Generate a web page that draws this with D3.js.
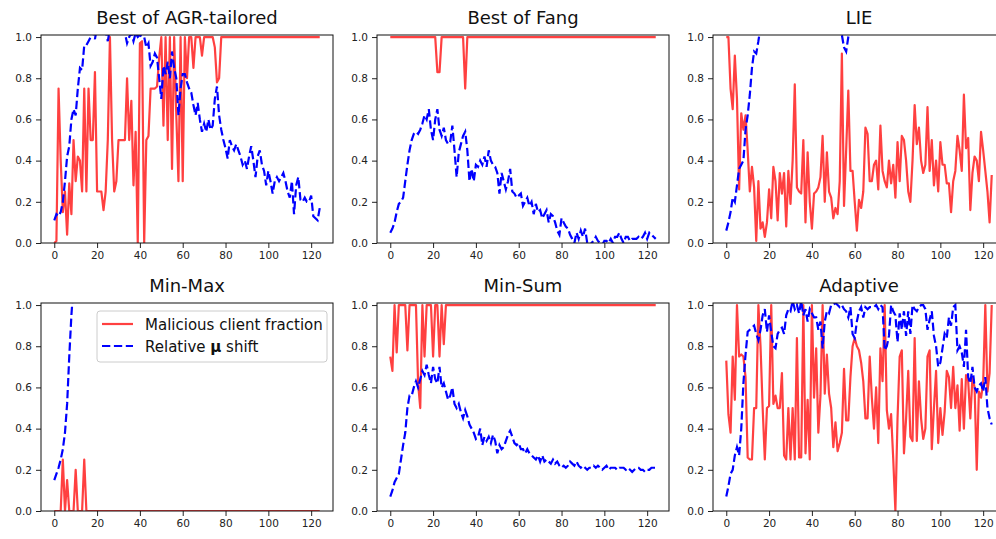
<!DOCTYPE html>
<html>
<head>
<meta charset="utf-8">
<script src="https://cdn.jsdelivr.net/npm/d3@7"></script>
<style>
  body { margin: 0; background: #fff; }
  svg { display: block; font-family: "DejaVu Sans", sans-serif; }
</style>
</head>
<body>
<div id="chart"></div>
<script>
// Panel titles, in grid order
const titles = ["Best of AGR-tailored", "Best of Fang", "LIE", "Min-Max", "Min-Sum", "Adaptive"];
const xTicks = [0, 20, 40, 60, 80, 100, 120];
const yTicks = [0, 0.2, 0.4, 0.6, 0.8, 1.0];
const legendLabels = ["Malicious client fraction", "Relative μ shift"];

// Malicious client fraction (red) and relative mu shift (blue), 125 rounds each
const agrRed = [
  0, 0.01, 0.75, 0.4, 0.15, 0.25, 0.04, 0.29, 0.14, 0.5,
  0.3, 0.42, 0.4, 0.25, 0.75, 0.25, 0.75, 0.5, 0.5, 0.83,
  0.25, 0.25, 0.25, 0.16, 0.25, 0.5, 1.0, 0.5, 0.25, 0.3,
  0.5, 0.5, 0.5, 0.5, 0.8, 0.5, 0.69, 0.28, 0.54, 0,
  0.97, 0.98, 0, 0.5, 0.52, 0.75, 0.75, 0.75, 0.76, 0.9,
  1.0, 0.57, 1.0, 0.5, 1.0, 0.36, 1.0, 0.62, 0.3, 1.0,
  0.3, 1.0, 0.8, 1.0, 1.0, 0.85, 1.0, 1.0, 1.0, 0.91,
  1.0, 1.0, 1.0, 1.0, 1.0, 0.95, 0.78, 0.8, 1.0, 1.0,
  1.0, 1.0, 1.0, 1.0, 1.0, 1.0, 1.0, 1.0, 1.0, 1.0,
  1.0, 1.0, 1.0, 1.0, 1.0, 1.0, 1.0, 1.0, 1.0, 1.0,
  1.0, 1.0, 1.0, 1.0, 1.0, 1.0, 1.0, 1.0, 1.0, 1.0,
  1.0, 1.0, 1.0, 1.0, 1.0, 1.0, 1.0, 1.0, 1.0, 1.0,
  1.0, 1.0, 1.0, 1.0, 1.0
];
const agrBlue = [
  0.11, 0.14, 0.13, 0.15, 0.2, 0.3, 0.42, 0.47, 0.6, 0.65,
  0.62, 0.75, 0.85, 0.84, 0.96, 0.96, 0.98, 1.0, 1.03, 0.99,
  1.05, 1.1, 1.08, 1.06, 1.03, 0.98, 1.04, 1.08, 1.12, 1.1,
  1.09, 1.06, 1.04, 1.02, 0.97, 1.0, 1.02, 0.98, 1.02, 1.0,
  1.01, 1.0, 1.0, 0.95, 0.97, 0.86, 0.88, 0.92, 0.9, 0.8,
  0.7, 0.86, 0.82, 0.88, 0.8, 0.93, 0.85, 0.8, 0.62, 0.75,
  0.82, 0.82, 0.78, 0.75, 0.73, 0.67, 0.62, 0.68, 0.6, 0.54,
  0.58, 0.54, 0.6, 0.55, 0.57, 0.7, 0.76, 0.62, 0.55, 0.5,
  0.46, 0.41, 0.5, 0.47, 0.45, 0.48, 0.45, 0.42, 0.38, 0.4,
  0.36, 0.42, 0.47, 0.4, 0.32, 0.42, 0.45, 0.38, 0.35, 0.28,
  0.35, 0.3, 0.24, 0.3, 0.32, 0.3, 0.32, 0.34, 0.3, 0.25,
  0.22, 0.3, 0.14, 0.28, 0.32, 0.21, 0.2, 0.22, 0.2, 0.2,
  0.23, 0.13, 0.12, 0.11, 0.17
];

const fangRed = [
  1.0, 1.0, 1.0, 1.0, 1.0, 1.0, 1.0, 1.0, 1.0, 1.0,
  1.0, 1.0, 1.0, 1.0, 1.0, 1.0, 1.0, 1.0, 1.0, 1.0,
  1.0, 1.0, 0.83, 0.83, 1.0, 1.0, 1.0, 1.0, 1.0, 1.0,
  1.0, 1.0, 1.0, 1.0, 1.0, 0.75, 1.0, 1.0, 1.0, 1.0,
  1.0, 1.0, 1.0, 1.0, 1.0, 1.0, 1.0, 1.0, 1.0, 1.0,
  1.0, 1.0, 1.0, 1.0, 1.0, 1.0, 1.0, 1.0, 1.0, 1.0,
  1.0, 1.0, 1.0, 1.0, 1.0, 1.0, 1.0, 1.0, 1.0, 1.0,
  1.0, 1.0, 1.0, 1.0, 1.0, 1.0, 1.0, 1.0, 1.0, 1.0,
  1.0, 1.0, 1.0, 1.0, 1.0, 1.0, 1.0, 1.0, 1.0, 1.0,
  1.0, 1.0, 1.0, 1.0, 1.0, 1.0, 1.0, 1.0, 1.0, 1.0,
  1.0, 1.0, 1.0, 1.0, 1.0, 1.0, 1.0, 1.0, 1.0, 1.0,
  1.0, 1.0, 1.0, 1.0, 1.0, 1.0, 1.0, 1.0, 1.0, 1.0,
  1.0, 1.0, 1.0, 1.0, 1.0
];
const fangBlue = [
  0.05, 0.07, 0.1, 0.15, 0.19, 0.2, 0.22, 0.3, 0.38, 0.45,
  0.5, 0.53, 0.54, 0.53, 0.55, 0.58, 0.62, 0.6, 0.65, 0.55,
  0.5, 0.6, 0.65, 0.55, 0.52, 0.56, 0.5, 0.48, 0.49, 0.57,
  0.45, 0.32, 0.44, 0.48, 0.52, 0.54, 0.45, 0.3, 0.36, 0.3,
  0.38, 0.37, 0.4, 0.38, 0.42, 0.37, 0.45, 0.4, 0.38, 0.37,
  0.34, 0.24, 0.34, 0.3, 0.26, 0.3, 0.36, 0.25, 0.24, 0.22,
  0.23, 0.24, 0.18, 0.2, 0.22, 0.18, 0.2, 0.14, 0.19, 0.15,
  0.16, 0.12, 0.14, 0.16, 0.1, 0.14, 0.13, 0.1, 0.06, 0.04,
  0.12, 0.1, 0.08, 0.07, 0.04, 0.02, 0.0, 0.05, 0.02, 0.06,
  0.03, 0.07, 0.0, -0.02, 0.0, 0.01, 0.03, 0.01, 0.0, -0.01,
  0.01, 0.01, 0.0, 0.02, 0.0, 0.03, 0.03, 0.05, 0.02, 0.0,
  0.03, 0.03, 0.01, 0.02, 0.02, 0.02, 0.03, 0.02, 0.03, 0.05,
  0.02, 0.05, 0.04, 0.03, 0.02
];

const lieRed = [
  1.0, 1.0, 0.75, 0.65, 0.91, 0.7, 0.26, 0.63, 0.55, 0.62,
  0.45, 0.25, 0.37, 0.27, 0.01, 0.3, 0.07, 0.1, 0.03, 0.1,
  0.26, 0.12, 0.37, 0.3, 0.11, 0.34, 0.24, 0.34, 0.08, 0.35,
  0.19, 0.4, 0.77, 0.27, 0.25, 0.24, 0.5, 0.1, 0.44, 0.2,
  0.07, 0.24, 0.25, 0.27, 0.32, 0.52, 0.2, 0.44, 0.25, 0.22,
  0.12, 0.17, 0.14, 0.3, 0.92, 0.18, 0.45, 0.74, 0.35, 0.35,
  0.2, 0.06, 0.21, 0.17, 0.25, 0.56, 0.53, 0.3, 0.3, 0.38,
  0.4, 0.26, 0.57, 0.35, 0.3, 0.27, 0.4, 0.29, 0.38, 0.22,
  0.49, 0.3, 0.52, 0.5, 0.4, 0.25, 0.2, 0.4, 0.67, 0.48,
  0.56, 0.4, 0.34, 0.38, 0.66, 0.35, 0.5, 0.28, 0.4, 0.25,
  0.49, 0.38, 0.38, 0.29, 0.29, 0.15, 0.3, 0.35, 0.52, 0.45,
  0.35, 0.72, 0.46, 0.51, 0.16, 0.34, 0.42, 0.4, 0.3, 0.54,
  0.45, 0.35, 0.25, 0.1, 0.33
];
const lieBlue = [
  0.06, 0.1, 0.15, 0.22, 0.2, 0.28, 0.36, 0.38, 0.4, 0.55,
  0.62, 0.72, 0.85, 0.93, 0.92, 0.98, 1.05, 1.12, 1.2, 1.28,
  1.35, 1.4, 1.46, 1.5, 1.55, 1.6, 1.62, 1.66, 1.7, 1.72,
  1.7, 1.68, 1.62, 1.58, 1.5, 1.45, 1.4, 1.36, 1.3, 1.28,
  1.24, 1.2, 1.18, 1.15, 1.12, 1.1, 1.08, 1.06, 1.05, 1.04,
  1.03, 1.02, 1.02, 1.01, 1.01, 0.95, 0.93, 1.0, 1.05, 1.1,
  1.15, 1.2, 1.25, 1.3, 1.34, 1.38, 1.42, 1.45, 1.5, 1.52,
  1.55, 1.58, 1.6, 1.62, 1.65, 1.66, 1.68, 1.7, 1.71, 1.72,
  1.74, 1.75, 1.76, 1.78, 1.79, 1.8, 1.81, 1.82, 1.83, 1.84,
  1.85, 1.86, 1.87, 1.88, 1.88, 1.89, 1.9, 1.9, 1.91, 1.92,
  1.92, 1.93, 1.94, 1.94, 1.95, 1.95, 1.96, 1.96, 1.97, 1.97,
  1.98, 1.98, 1.99, 1.99, 2.0, 2.0, 2.0, 2.01, 2.01, 2.02,
  2.02, 2.02, 2.03, 2.03, 2.03
];

const minmaxRed = [
  0, 0, 0, 0, 0.25, 0, 0.15, 0, 0, 0,
  0.2, 0, 0, 0, 0.25, 0, 0, 0, 0, 0,
  0, 0, 0, 0, 0, 0, 0, 0, 0, 0,
  0, 0, 0, 0, 0, 0, 0, 0, 0, 0,
  0, 0, 0, 0, 0, 0, 0, 0, 0, 0,
  0, 0, 0, 0, 0, 0, 0, 0, 0, 0,
  0, 0, 0, 0, 0, 0, 0, 0, 0, 0,
  0, 0, 0, 0, 0, 0, 0, 0, 0, 0,
  0, 0, 0, 0, 0, 0, 0, 0, 0, 0,
  0, 0, 0, 0, 0, 0, 0, 0, 0, 0,
  0, 0, 0, 0, 0, 0, 0, 0, 0, 0,
  0, 0, 0, 0, 0, 0, 0, 0, 0, 0,
  0, 0, 0, 0, 0
];
const minmaxBlue = [
  0.15, 0.18, 0.21, 0.25, 0.3, 0.38, 0.52, 0.75, 0.95, 1.1,
  1.3, 1.5, 1.7, 1.9, 2.1, 2.3, 2.5, 2.7, 2.9, 3.1,
  3.3, 3.5, 3.7, 3.9, 4.1, 4.3, 4.5, 4.7, 4.9, 5.1,
  5.3, 5.5, 5.7, 5.9, 6.1, 6.3, 6.5, 6.7, 6.9, 7.1,
  7.3, 7.5, 7.7, 7.9, 8.1, 8.3, 8.5, 8.7, 8.9, 9.1,
  9.3, 9.5, 9.7, 9.9, 10.1, 10.3, 10.5, 10.7, 10.9, 11.1,
  11.3, 11.5, 11.7, 11.9, 12.1, 12.3, 12.5, 12.7, 12.9, 13.1,
  13.3, 13.5, 13.7, 13.9, 14.1, 14.3, 14.5, 14.7, 14.9, 15.1,
  15.3, 15.5, 15.7, 15.9, 16.1, 16.3, 16.5, 16.7, 16.9, 17.1,
  17.3, 17.5, 17.7, 17.9, 18.1, 18.3, 18.5, 18.7, 18.9, 19.1,
  19.3, 19.5, 19.7, 19.9, 20.1, 20.3, 20.5, 20.7, 20.9, 21.1,
  21.3, 21.5, 21.7, 21.9, 22.1, 22.3, 22.5, 22.7, 22.9, 23.1,
  23.3, 23.5, 23.7, 23.9, 24.1
];

const minsumRed = [
  0.75, 0.68, 1.0, 0.77, 1.0, 1.0, 1.0, 1.0, 0.78, 1.0,
  1.0, 1.0, 1.0, 0.62, 0.5, 1.0, 0.75, 1.0, 1.0, 1.0,
  0.75, 1.0, 1.0, 0.75, 1.0, 0.81, 1.0, 1.0, 1.0, 1.0,
  1.0, 1.0, 1.0, 1.0, 1.0, 1.0, 1.0, 1.0, 1.0, 1.0,
  1.0, 1.0, 1.0, 1.0, 1.0, 1.0, 1.0, 1.0, 1.0, 1.0,
  1.0, 1.0, 1.0, 1.0, 1.0, 1.0, 1.0, 1.0, 1.0, 1.0,
  1.0, 1.0, 1.0, 1.0, 1.0, 1.0, 1.0, 1.0, 1.0, 1.0,
  1.0, 1.0, 1.0, 1.0, 1.0, 1.0, 1.0, 1.0, 1.0, 1.0,
  1.0, 1.0, 1.0, 1.0, 1.0, 1.0, 1.0, 1.0, 1.0, 1.0,
  1.0, 1.0, 1.0, 1.0, 1.0, 1.0, 1.0, 1.0, 1.0, 1.0,
  1.0, 1.0, 1.0, 1.0, 1.0, 1.0, 1.0, 1.0, 1.0, 1.0,
  1.0, 1.0, 1.0, 1.0, 1.0, 1.0, 1.0, 1.0, 1.0, 1.0,
  1.0, 1.0, 1.0, 1.0, 1.0
];
const minsumBlue = [
  0.07, 0.1, 0.14, 0.16, 0.18, 0.25, 0.32, 0.38, 0.5, 0.56,
  0.56, 0.6, 0.63, 0.6, 0.64, 0.68, 0.66, 0.71, 0.66, 0.62,
  0.7, 0.64, 0.62, 0.7, 0.6, 0.62, 0.58, 0.54, 0.56, 0.6,
  0.52, 0.5, 0.52, 0.48, 0.45, 0.49, 0.46, 0.42, 0.4, 0.38,
  0.35, 0.36, 0.4, 0.32, 0.36, 0.34, 0.36, 0.33, 0.37, 0.34,
  0.28, 0.32, 0.3, 0.31, 0.34, 0.37, 0.39, 0.36, 0.33, 0.32,
  0.33, 0.3, 0.3, 0.28, 0.3, 0.28, 0.27, 0.26, 0.25, 0.27,
  0.24, 0.27, 0.24, 0.25, 0.24, 0.23, 0.25, 0.23, 0.24, 0.22,
  0.21, 0.22, 0.21, 0.22, 0.24, 0.23, 0.22, 0.24, 0.22, 0.21,
  0.22, 0.21, 0.2, 0.21, 0.21, 0.22, 0.21, 0.22, 0.21, 0.2,
  0.21, 0.22, 0.2, 0.21, 0.21, 0.21, 0.2, 0.21, 0.21, 0.21,
  0.2, 0.21, 0.2, 0.19, 0.2, 0.21, 0.21, 0.2, 0.2, 0.19,
  0.2, 0.2, 0.21, 0.21, 0.21
];

const adaptiveRed = [
  0.73, 0.47, 0.38, 0.75, 0.54, 1.0, 0.75, 0.76, 0.75, 0.65,
  0.26, 0.25, 0.25, 0.5, 0.5, 1.0, 0.8, 0.5, 0.25, 0.5,
  0.51, 1.0, 0.52, 0.56, 0.5, 0.5, 0.67, 0.27, 0.25, 0.5,
  0.25, 0.5, 0.25, 0.84, 0.26, 0.26, 1.0, 0.28, 0.54, 0.25,
  1.0, 0.55, 0.79, 0.38, 0.56, 1.0, 0.57, 0.76, 0.57, 0.5,
  0.31, 0.43, 0.29, 0.33, 0.38, 0.69, 0.44, 0.44, 0.65, 0.8,
  0.84, 0.8, 0.78, 0.72, 0.63, 0.45, 0.45, 0.75, 0.55, 0.4,
  0.6, 0.33, 0.79, 0.63, 1.0, 0.49, 0.4, 0.47, 0.25, 0.0,
  0.45, 0.75, 0.78, 0.28, 0.45, 0.68, 0.36, 0.34, 0.84, 0.34,
  0.63, 0.45, 0.35, 0.4, 0.75, 0.78, 0.3, 0.5, 0.68, 0.33,
  0.5, 0.37, 0.48, 0.68, 0.65, 0.5, 0.7, 0.5, 0.61, 0.39,
  0.64, 0.4, 0.66, 0.63, 0.45, 0.65, 0.6, 0.2, 0.58, 0.55,
  0.62, 1.0, 0.58, 0.67, 1.0
];
const adaptiveBlue = [
  0.07, 0.12, 0.18, 0.2, 0.27, 0.31, 0.27, 0.4, 0.62, 0.76,
  0.87, 0.88, 0.89, 0.9, 0.86, 0.83, 0.88, 0.95, 0.98, 0.87,
  0.95, 0.87, 0.8, 0.79, 0.86, 0.88, 0.89, 0.86, 0.95, 0.98,
  0.97, 1.02, 0.98, 1.0, 0.96, 1.02, 0.95, 0.98, 0.92, 0.98,
  0.96, 0.94, 0.94, 0.88, 0.92, 0.79, 0.92, 0.97, 0.96, 1.0,
  1.0, 1.01, 1.0, 0.99, 1.0, 0.98, 0.97, 0.94, 0.99, 0.86,
  0.84, 0.92, 0.97, 0.99, 0.94, 0.99, 0.98, 0.99, 0.99, 0.99,
  1.0, 0.98, 1.0, 0.99, 0.78, 0.8, 0.85, 1.0, 0.97, 0.95,
  0.82, 0.96, 0.88, 0.97, 0.85, 0.97, 0.86, 1.0, 0.98, 0.97,
  0.99, 1.0, 1.0, 0.98, 0.88, 0.93, 0.97, 0.85, 0.8, 0.7,
  0.72, 0.79, 0.86, 0.84, 0.94, 0.9, 0.99, 1.0, 0.78, 0.8,
  0.77, 0.7, 0.88, 0.65, 0.62, 0.7, 0.6, 0.58, 0.61, 0.62,
  0.58, 0.65, 0.5, 0.45, 0.42
];

const panels = [
  { title: titles[0], red: agrRed, blue: agrBlue },
  { title: titles[1], red: fangRed, blue: fangBlue },
  { title: titles[2], red: lieRed, blue: lieBlue },
  { title: titles[3], red: minmaxRed, blue: minmaxBlue, legend: true },
  { title: titles[4], red: minsumRed, blue: minsumBlue },
  { title: titles[5], red: adaptiveRed, blue: adaptiveBlue }
];

const width = 996, height = 539;
const colLeft = [41, 377, 713], rowTop = [35, 303];
const pw = 292, ph = 208;

const svg = d3.select("#chart").append("svg").attr("width", width).attr("height", height);

// matplotlib-style 5% margins on x
const nPts = agrRed.length;
const pad = (nPts - 1) * 0.05;

panels.forEach((p, i) => {
  const left = colLeft[i % 3], top = rowTop[Math.floor(i / 3)];
  const x = d3.scaleLinear().domain([-pad, nPts - 1 + pad]).range([0, pw]);
  const y = d3.scaleLinear().domain([0, 1.01]).range([ph, 0]);

  const g = svg.append("g").attr("transform", `translate(${left},${top})`);

  g.append("clipPath").attr("id", "clip" + i)
    .append("rect").attr("width", pw).attr("height", ph);

  const line = d3.line().x((d, k) => x(k)).y(d => y(d));

  const plot = g.append("g").attr("clip-path", `url(#clip${i})`);
  plot.append("path")
    .datum(p.red)
    .attr("fill", "none")
    .attr("stroke", "red")
    .attr("stroke-opacity", 0.75)
    .attr("stroke-width", 2.2)
    .attr("stroke-linejoin", "round")
    .attr("d", line);
  plot.append("path")
    .datum(p.blue)
    .attr("fill", "none")
    .attr("stroke", "blue")
    .attr("stroke-width", 2.2)
    .attr("stroke-dasharray", "8.3,3.6")
    .attr("d", line);

  // axes
  const xAxis = g.append("g").attr("transform", `translate(0,${ph})`)
    .call(d3.axisBottom(x).tickValues(xTicks).tickSize(5).tickPadding(4).tickSizeOuter(0));
  const yAxis = g.append("g")
    .call(d3.axisLeft(y).tickValues(yTicks).tickFormat(d3.format(".1f")).tickSize(5).tickPadding(4).tickSizeOuter(0));
  [xAxis, yAxis].forEach(a => {
    a.select(".domain").remove();
    a.selectAll("line").attr("stroke", "#222").attr("stroke-width", 1);
    a.selectAll("text").attr("font-size", 10.5).attr("fill", "#222").attr("font-family", "DejaVu Sans");
  });

  // frame
  g.append("rect").attr("width", pw).attr("height", ph)
    .attr("fill", "none").attr("stroke", "#111").attr("stroke-width", 1);

  // title
  g.append("text").attr("x", pw / 2).attr("y", -11)
    .attr("text-anchor", "middle").attr("font-size", 18).attr("fill", "#111")
    .text(p.title);

  if (p.legend) {
    const lg = g.append("g").attr("transform", `translate(${97 - left},${311 - top})`);
    lg.append("rect").attr("width", 230).attr("height", 51).attr("rx", 3)
      .attr("fill", "white").attr("fill-opacity", 0.8).attr("stroke", "#ccc");
    lg.append("line").attr("x1", 5).attr("x2", 36).attr("y1", 13).attr("y2", 13)
      .attr("stroke", "red").attr("stroke-opacity", 0.75).attr("stroke-width", 2.2);
    lg.append("line").attr("x1", 5).attr("x2", 36).attr("y1", 35).attr("y2", 35)
      .attr("stroke", "blue").attr("stroke-width", 2.2).attr("stroke-dasharray", "8.3,3.6");
    lg.append("text").attr("x", 48).attr("y", 18.5).attr("font-size", 15).attr("fill", "#111")
      .text(legendLabels[0]);
    const t2 = lg.append("text").attr("x", 48).attr("y", 40.5).attr("font-size", 15).attr("fill", "#111");
    const parts = legendLabels[1].split("μ");
    t2.append("tspan").text(parts[0]);
    t2.append("tspan").attr("font-weight", "bold").text("μ");
    t2.append("tspan").text(parts[1]);
  }
});
</script>
</body>
</html>
